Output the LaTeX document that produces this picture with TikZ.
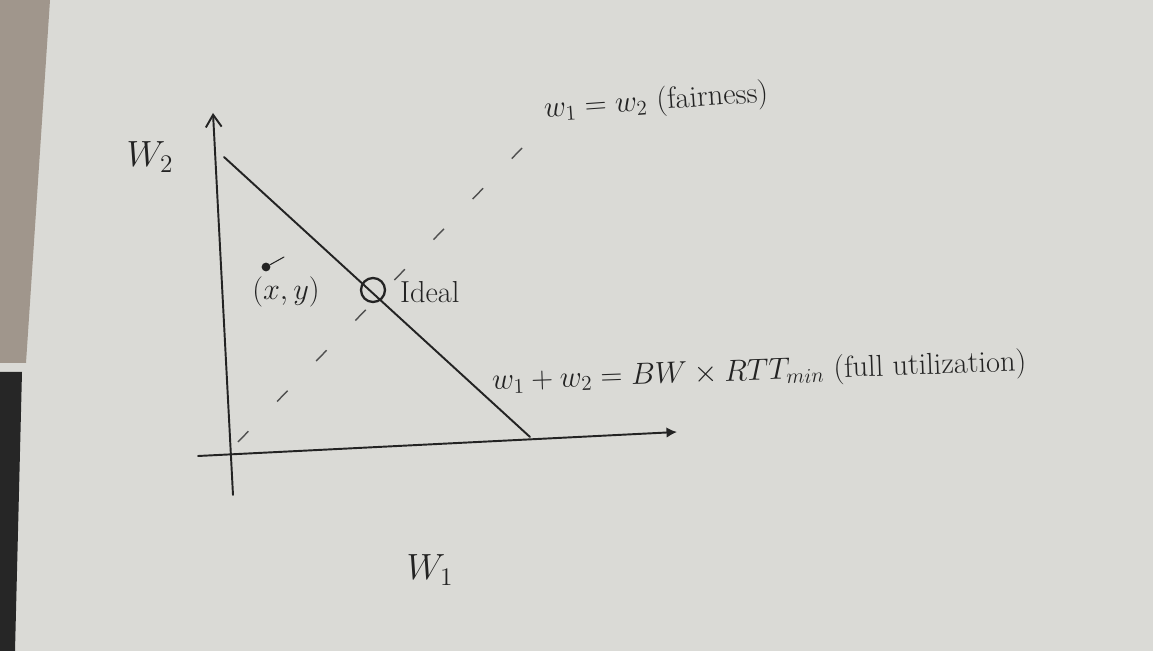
\documentclass[tikz,border=0pt]{standalone}
\usetikzlibrary{arrows.meta}
\definecolor{paper}{RGB}{218,218,214}
\definecolor{granite}{RGB}{160,150,140}
\definecolor{ink}{RGB}{35,35,35}
\tikzset{
  pen/.style={draw=ink, line width=1.1pt, line cap=round},
  fairdash/.style={draw=ink!80, line width=0.8pt, dash pattern=on 0.3cm off 0.826cm},
  lbl/.style={text=ink, inner sep=1pt, font=\huge},
  smalllbl/.style={text=ink, inner sep=1pt, font=\LARGE}
}
\begin{document}
\begin{tikzpicture}[x=0.02cm, y=-0.02cm]
\useasboundingbox (0,0) rectangle (1153,651);
% background: paper, granite desk, dark strip
\fill[paper] (0,0) rectangle (1153,651);
\fill[granite] (0,0) -- (50,0) -- (26,363) -- (0,363) -- cycle;
\fill[black!85] (0,372) -- (22,372) -- (15,651) -- (0,651) -- cycle;
% axes
\coordinate (yb) at (233,495);
\coordinate (yt) at (213,113);
\coordinate (xl) at (198,456);
\coordinate (xr) at (677,432);
\draw[pen, -{Straight Barb[length=7pt,width=9pt]}] (yb) -- (yt);
\draw[pen, -{Latex[length=6pt,width=6pt]}] (xl) -- (xr);
% full-utilization line
\coordinate (hu) at (224,157);
\coordinate (hl) at (530,437);
\draw[pen] (hu) -- (hl);
% fairness dashed line
\coordinate (fs) at (238,442);
\coordinate (fe) at (522,148);
\draw[fairdash] (fs) -- (fe);
% ideal point
\node[circle, draw=ink, line width=1.3pt, minimum size=0.48cm, inner sep=0pt] (ideal) at (373,290) {};
\node[smalllbl, anchor=west] (ideallbl) at (398,292) {Ideal};
% point (x,y)
\node[circle, fill=ink, minimum size=5pt, inner sep=0pt] (pt) at (266,267) {};
\coordinate (ptick) at (284,257);
\draw[pen, line width=0.6pt] (pt) -- (ptick);
\node[smalllbl] (ptlbl) at (286,292) {$(x,y)$};
% axis labels
\node[lbl] (w2) at (150,157) {$W_2$};
\node[lbl] (w1) at (430,570) {$W_1$};
% equations
\node[smalllbl, rotate=4, anchor=west] (fair) at (542,110) {$w_1 = w_2$ (fairness)};
\node[smalllbl, rotate=2, anchor=west] (full) at (490,382) {$w_1 + w_2 = BW \times RTT_{min}$ (full utilization)};
\end{tikzpicture}
\end{document}
